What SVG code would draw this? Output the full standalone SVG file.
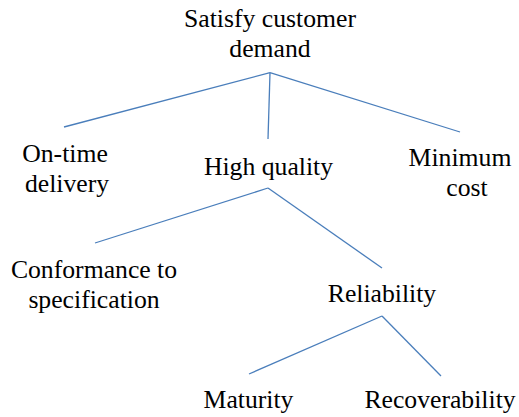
<svg xmlns="http://www.w3.org/2000/svg" width="519" height="417" viewBox="0 0 519 417">
<style>
text{font-family:'Liberation Serif',Tinos,'Times New Roman',serif;font-size:25.7px;fill:#000;text-anchor:middle}
.c line{stroke:#4a7ebb;stroke-width:1.3;fill:none}
</style>
<rect width="519" height="417" fill="#fff"/>
<g id="connectors" class="c">
<line x1="270" y1="72.7" x2="64" y2="127"/>
<line x1="270" y1="72.7" x2="268" y2="139"/>
<line x1="270" y1="72.7" x2="460" y2="132"/>
<line x1="268" y1="188" x2="95" y2="243"/>
<line x1="268" y1="188" x2="382" y2="268"/>
<line x1="382" y1="316" x2="249" y2="374"/>
<line x1="382" y1="316" x2="441" y2="376"/>
</g>
<g id="root"><text x="270" y="27" style="font-family:'Liberation Serif',serif">Satisfy customer</text><text x="270" y="57" style="font-family:'Liberation Serif',serif">demand</text></g>
<g id="ontime"><text x="65" y="162" style="font-family:'Liberation Serif',serif">On-time</text><text x="67" y="192" style="font-family:'Liberation Serif',serif">delivery</text></g>
<g id="quality"><text x="268.5" y="175" style="font-family:'Liberation Serif',serif">High quality</text></g>
<g id="cost"><text x="460" y="166" style="font-family:'Liberation Serif',serif">Minimum</text><text x="467" y="196" style="font-family:'Liberation Serif',serif">cost</text></g>
<g id="conformance"><text x="94" y="278" style="font-family:'Liberation Serif',serif">Conformance to</text><text x="94" y="308" style="font-family:'Liberation Serif',serif">specification</text></g>
<g id="reliability"><text x="382" y="302" style="font-family:'Liberation Serif',serif">Reliability</text></g>
<g id="maturity"><text x="248.5" y="408" style="font-family:'Liberation Serif',serif">Maturity</text></g>
<g id="recoverability"><text x="440" y="408" style="font-family:'Liberation Serif',serif">Recoverability</text></g>
</svg>
